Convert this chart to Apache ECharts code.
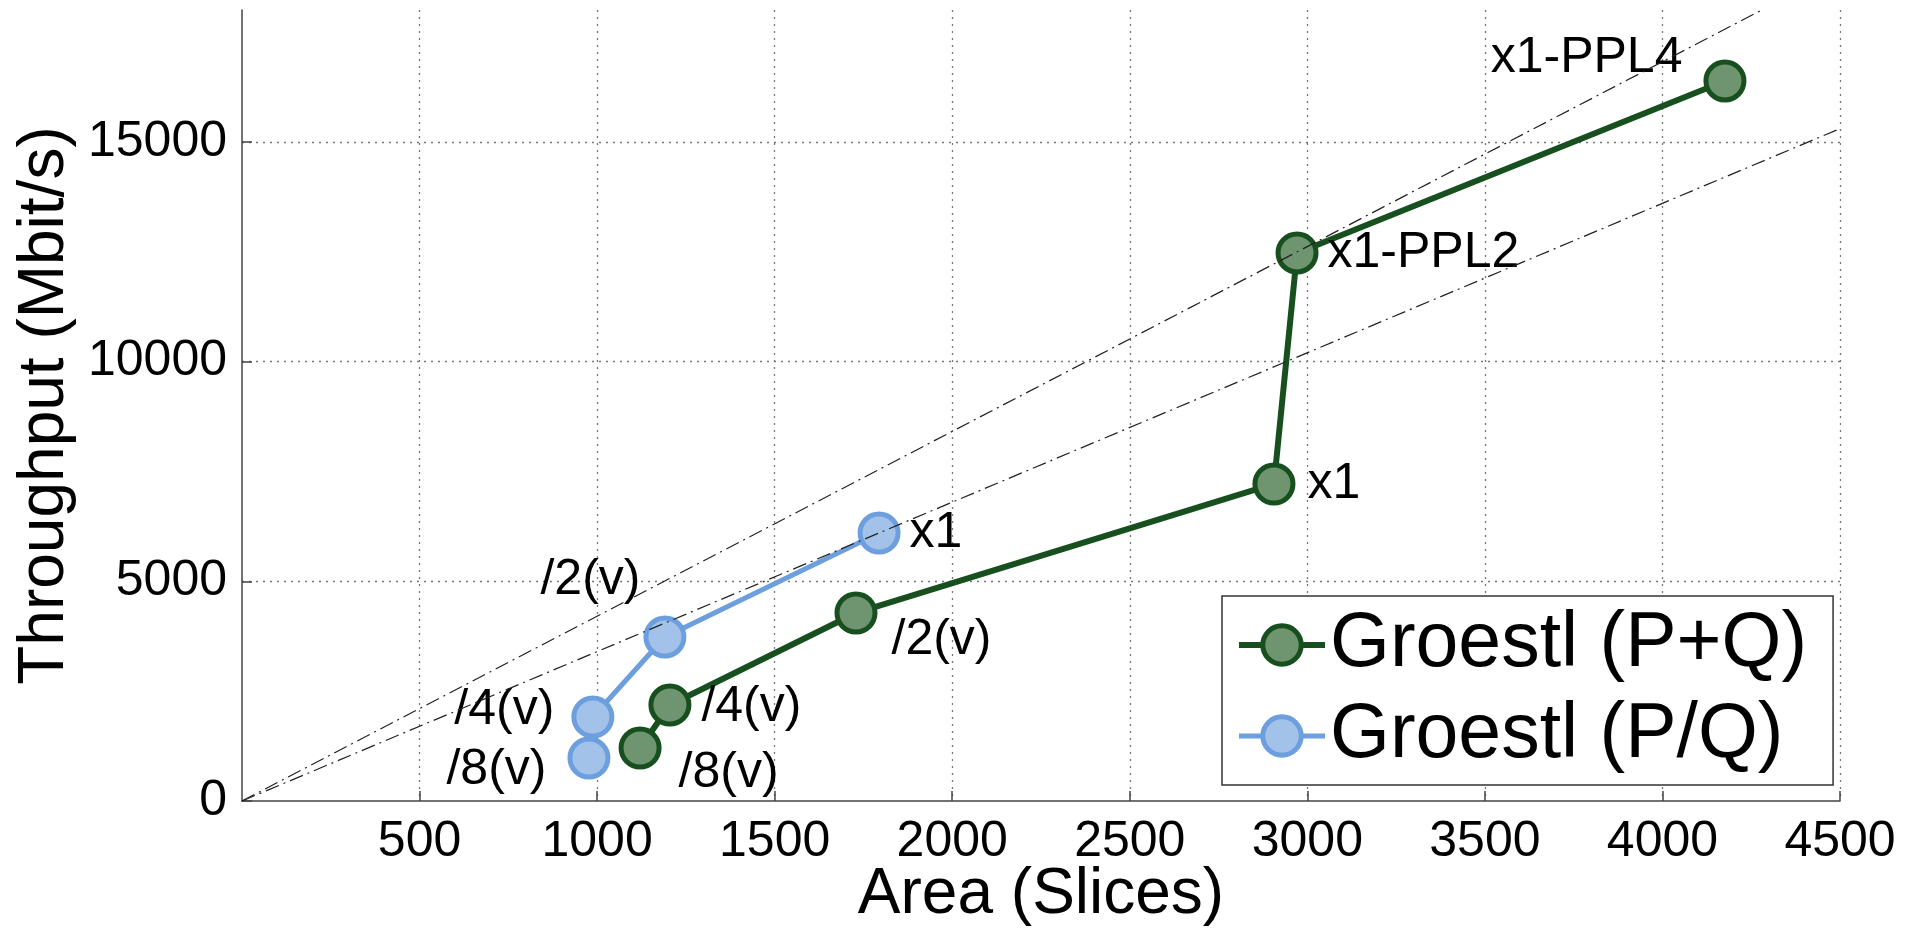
<!DOCTYPE html>
<html>
<head>
<meta charset="utf-8">
<script src="https://cdn.jsdelivr.net/npm/echarts@6/dist/echarts.min.js"></script>
<style>
html,body{margin:0;padding:0;background:#fff;}
#chart{width:1927px;height:934px;}
</style>
</head>
<body>
<div id="chart"></div>
<script>
// ---- data ----
const seriesNames = ['Groestl (P+Q)', 'Groestl (P/Q)'];
const areaPQ   = [1121, 1205, 1729, 2906, 2971, 4176];
const tputPQ   = [1206, 2185, 4279, 7214, 12472, 16386];
const labelsPQ = ['/8(v)', '/4(v)', '/2(v)', 'x1', 'x1-PPL2', 'x1-PPL4'];
const areaPdQ   = [977, 988, 1191, 1794];
const tputPdQ   = [979, 1912, 3732, 6099];
const labelsPdQ = ['/8(v)', '/4(v)', '/2(v)', 'x1'];
// dash-dot reference lines (endpoints, in data units)
const refUpperX = [0, 4280];
const refUpperY = [0, 18000];
const refLowerX = [0, 4500];
const refLowerY = [0, 15300];
const xAxisTitle = 'Area (Slices)';
const yAxisTitle = 'Throughput (Mbit/s)';

// ---- label placement (style only) ----
const placePQ = [
  {position:'right', offset:[17, 25]},
  {position:'right', offset:[10, 2]},
  {position:'right', offset:[14, 27]},
  {position:'right', offset:[12, 0]},
  {position:'right', offset:[9, 0]},
  {position:'left',  offset:[-21, -23]}
];
const placePdQ = [
  {position:'left',  offset:[-21, 12]},
  {position:'left',  offset:[-17, -7]},
  {position:'left',  offset:[-3, -57]},
  {position:'right', offset:[9, 0]}
];

const FONT = 'Liberation Sans, Arial, Helvetica, sans-serif';
const GREEN_LINE = '#17501e', GREEN_FILL = '#6e9470';
const BLUE_LINE = '#6d9fdf', BLUE_FILL = '#a3c2ea';

function build(xs, ys, labels, place) {
  return xs.map((x, i) => ({
    value: [x, ys[i]],
    label: {show: true, formatter: labels[i], position: place[i].position,
            offset: place[i].offset, distance: 0}
  }));
}
function pairs(xs, ys) { return xs.map((x, i) => [x, ys[i]]); }
const plain = v => String(v);

const chart = echarts.init(document.getElementById('chart'), null, {renderer: 'canvas'});
const labelStyle = {fontFamily: FONT, fontSize: 50, color: '#000'};
const refStyle = {color: '#222', width: 1.2, type: [14, 5, 2, 5]};

chart.setOption({
  animation: false,
  backgroundColor: '#fff',
  grid: {left: 242, right: 87, top: 10, bottom: 133, containLabel: false},
  xAxis: {
    type: 'value', min: 0, max: 4500, interval: 500,
    name: xAxisTitle, nameLocation: 'middle', nameGap: 62, nameMoveOverlap: false,
    nameTextStyle: {fontFamily: FONT, fontSize: 64, color: '#000'},
    axisLine: {show: true, onZero: false, lineStyle: {color: '#444', width: 1.5}},
    axisTick: {show: true, inside: true, length: 10, lineStyle: {color: '#444', width: 1.5}},
    axisLabel: {fontFamily: FONT, fontSize: 50, color: '#000', margin: 16, formatter: plain,
                showMinLabel: false, showMaxLabel: true},
    splitLine: {show: true, showMinLine: false, showMaxLine: true, lineStyle: {color: '#777', width: 1.3, type: [2, 5]}}
  },
  yAxis: {
    type: 'value', min: 0, max: 18000, interval: 5000,
    name: yAxisTitle, nameLocation: 'middle', nameGap: 165, nameMoveOverlap: false,
    nameTextStyle: {fontFamily: FONT, fontSize: 64, color: '#000'},
    axisLine: {show: true, onZero: false, lineStyle: {color: '#444', width: 1.5}},
    axisTick: {show: true, inside: true, length: 10, lineStyle: {color: '#444', width: 1.5}},
    axisLabel: {fontFamily: FONT, fontSize: 50, color: '#000', margin: 15, formatter: plain,
                showMinLabel: true, showMaxLabel: false},
    splitLine: {show: true, showMinLine: false, showMaxLine: false, lineStyle: {color: '#777', width: 1.3, type: [2, 5]}}
  },
  legend: {
    orient: 'vertical', left: 1222, top: 596,
    padding: [6, 26, 6, 14], itemGap: 5,
    itemWidth: 86, itemHeight: 48,
    borderColor: '#333', borderWidth: 1.5, backgroundColor: '#fff',
    lineStyle: {width: 'inherit'},
    itemStyle: {borderWidth: 'inherit'},
    textStyle: {fontFamily: FONT, fontSize: 77, color: '#000', lineHeight: 86},
    data: seriesNames
  },
  series: [
    {
      name: seriesNames[0], type: 'line', z: 2,
      data: build(areaPQ, tputPQ, labelsPQ, placePQ),
      symbol: 'circle', symbolSize: 38,
      lineStyle: {color: GREEN_LINE, width: 6},
      itemStyle: {color: GREEN_FILL, borderColor: GREEN_LINE, borderWidth: 5},
      label: labelStyle,
      emphasis: {disabled: true}
    },
    {
      name: seriesNames[1], type: 'line', z: 2,
      data: build(areaPdQ, tputPdQ, labelsPdQ, placePdQ),
      symbol: 'circle', symbolSize: 38,
      lineStyle: {color: BLUE_LINE, width: 5},
      itemStyle: {color: BLUE_FILL, borderColor: BLUE_LINE, borderWidth: 5},
      label: labelStyle,
      emphasis: {disabled: true}
    },
    {
      name: 'refUpper', type: 'line', z: 4, silent: true,
      data: pairs(refUpperX, refUpperY), symbol: 'none',
      lineStyle: refStyle, emphasis: {disabled: true}
    },
    {
      name: 'refLower', type: 'line', z: 4, silent: true,
      data: pairs(refLowerX, refLowerY), symbol: 'none',
      lineStyle: refStyle, emphasis: {disabled: true}
    }
  ]
});
</script>
</body>
</html>
